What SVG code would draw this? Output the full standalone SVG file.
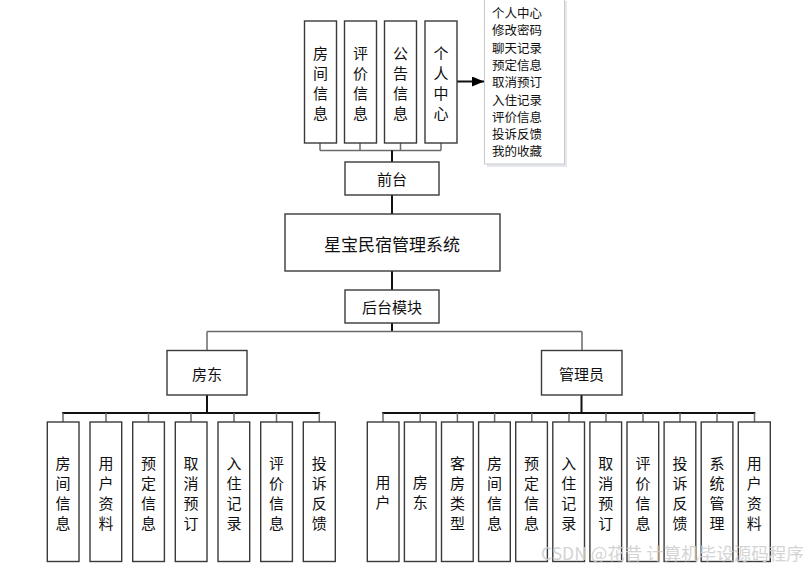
<svg xmlns="http://www.w3.org/2000/svg" width="806" height="570" viewBox="0 0 806 570">
<style>
.box{fill:#fff;stroke:#3a3a3a;stroke-width:1.4}
.t{font-family:"Noto Sans CJK SC","Liberation Sans",sans-serif;font-size:15px;fill:#111;text-anchor:middle;dominant-baseline:central}
.m{font-family:"Noto Sans CJK SC","Liberation Sans",sans-serif;font-size:12.5px;fill:#111}
.ln{fill:none;stroke:#6a6a6a;stroke-width:1.5}
.lk{fill:none;stroke:#111;stroke-width:2}
</style>
<defs>
<marker id="arr" viewBox="0 0 12 10" refX="12" refY="5" markerWidth="12" markerHeight="10" markerUnits="userSpaceOnUse" orient="auto">
<path d="M0,0 L12,5 L0,10 z" fill="#000"/>
</marker>
</defs>
<rect width="806" height="570" fill="#fff"/>
<g id="connectors">
<path class="ln" d="M320,143 V150.5 M360,143 V150.5 M400.5,143 V150.5 M441,143 V150.5 M320,150.5 H441"/>
<path class="lk" d="M392,150.5 V162"/>
<path class="lk" d="M392,195 V214"/>
<path class="lk" d="M392,271 V290"/>
<path class="lk" d="M392,323 V332"/>
<path class="ln" d="M207,331.5 H582 M207,331.5 V350 M582,331.5 V350"/>
<path class="lk" d="M207,395 V413 M581.5,395 V413"/>
<path class="lk" d="M62.2,413 H320.1"/>
<path class="ln" d="M63,413 V422 M106,413 V422 M148.5,413 V422 M191,413 V422 M234,413 V422 M276.5,413 V422 M319.3,413 V422"/>
<path class="lk" d="M382.2,413 H755.3"/>
<path class="ln" d="M383,413 V422 M420.2,413 V422 M457.4,413 V422 M494.6,413 V422 M531.8,413 V422 M569,413 V422 M606,413 V422 M643,413 V422 M680,413 V422 M717,413 V422 M754.5,413 V422"/>
<path class="lk" d="M457,81.5 H484" marker-end="url(#arr)"/>
</g>
<g id="top-fangjian"><rect class="box" x="304.5" y="21" width="32" height="122"/><text class="t"><tspan x="320.5" y="52">房</tspan><tspan x="320.5" y="72">间</tspan><tspan x="320.5" y="92">信</tspan><tspan x="320.5" y="112">息</tspan></text></g>
<g id="top-pingjia"><rect class="box" x="344.5" y="21" width="32" height="122"/><text class="t"><tspan x="360.5" y="52">评</tspan><tspan x="360.5" y="72">价</tspan><tspan x="360.5" y="92">信</tspan><tspan x="360.5" y="112">息</tspan></text></g>
<g id="top-gonggao"><rect class="box" x="384.5" y="21" width="32" height="122"/><text class="t"><tspan x="400.5" y="52">公</tspan><tspan x="400.5" y="72">告</tspan><tspan x="400.5" y="92">信</tspan><tspan x="400.5" y="112">息</tspan></text></g>
<g id="top-geren"><rect class="box" x="425" y="21" width="32" height="122"/><text class="t"><tspan x="441" y="52">个</tspan><tspan x="441" y="72">人</tspan><tspan x="441" y="92">中</tspan><tspan x="441" y="112">心</tspan></text></g>
<g id="popup">
<rect x="487" y="1" width="80" height="166" fill="#e4e8ee"/>
<rect x="484.5" y="-1" width="80" height="165" fill="#fff" stroke="#c8c8c8" stroke-width="1"/>
<text class="m"><tspan x="492" y="18">个人中心</tspan><tspan x="492" y="35.3">修改密码</tspan><tspan x="492" y="52.6">聊天记录</tspan><tspan x="492" y="69.9">预定信息</tspan><tspan x="492" y="87.2">取消预订</tspan><tspan x="492" y="104.5">入住记录</tspan><tspan x="492" y="121.8">评价信息</tspan><tspan x="492" y="139.1">投诉反馈</tspan><tspan x="492" y="156.4">我的收藏</tspan></text>
</g>
<g id="qiantai"><rect class="box" x="345" y="162" width="94" height="33"/><text class="t" x="392" y="178.5">前台</text></g>
<g id="system"><rect class="box" x="285" y="214" width="215" height="57"/><text class="t" x="392" y="243" style="font-size:17px">星宝民宿管理系统</text></g>
<g id="houtai"><rect class="box" x="345" y="290" width="94" height="33"/><text class="t" x="392" y="306.5">后台模块</text></g>
<g id="fangdong"><rect class="box" x="167" y="350.5" width="80" height="44.5"/><text class="t" x="207" y="373">房东</text></g>
<g id="guanliyuan"><rect class="box" x="541.5" y="350.5" width="80.5" height="44.5"/><text class="t" x="581.5" y="373">管理员</text></g>
<g id="l1"><rect class="box" x="47.3" y="422" width="31.7" height="139.5"/><text class="t"><tspan x="63" y="462">房</tspan><tspan x="63" y="482">间</tspan><tspan x="63" y="502">信</tspan><tspan x="63" y="522">息</tspan></text></g>
<g id="l2"><rect class="box" x="90" y="422" width="31.7" height="139.5"/><text class="t"><tspan x="106" y="462">用</tspan><tspan x="106" y="482">户</tspan><tspan x="106" y="502">资</tspan><tspan x="106" y="522">料</tspan></text></g>
<g id="l3"><rect class="box" x="132.7" y="422" width="31.7" height="139.5"/><text class="t"><tspan x="148.5" y="462">预</tspan><tspan x="148.5" y="482">定</tspan><tspan x="148.5" y="502">信</tspan><tspan x="148.5" y="522">息</tspan></text></g>
<g id="l4"><rect class="box" x="175.3" y="422" width="31.7" height="139.5"/><text class="t"><tspan x="191" y="462">取</tspan><tspan x="191" y="482">消</tspan><tspan x="191" y="502">预</tspan><tspan x="191" y="522">订</tspan></text></g>
<g id="l5"><rect class="box" x="218" y="422" width="31.7" height="139.5"/><text class="t"><tspan x="234" y="462">入</tspan><tspan x="234" y="482">住</tspan><tspan x="234" y="502">记</tspan><tspan x="234" y="522">录</tspan></text></g>
<g id="l6"><rect class="box" x="260.7" y="422" width="31.7" height="139.5"/><text class="t"><tspan x="276.5" y="462">评</tspan><tspan x="276.5" y="482">价</tspan><tspan x="276.5" y="502">信</tspan><tspan x="276.5" y="522">息</tspan></text></g>
<g id="l7"><rect class="box" x="303.3" y="422" width="32" height="139.5"/><text class="t"><tspan x="319.3" y="462">投</tspan><tspan x="319.3" y="482">诉</tspan><tspan x="319.3" y="502">反</tspan><tspan x="319.3" y="522">馈</tspan></text></g>
<g id="r1"><rect class="box" x="367.3" y="422" width="31.7" height="139.5"/><text class="t"><tspan x="383" y="481">用</tspan><tspan x="383" y="501">户</tspan></text></g>
<g id="r2"><rect class="box" x="404.4" y="422" width="31.7" height="139.5"/><text class="t"><tspan x="420.2" y="481">房</tspan><tspan x="420.2" y="501">东</tspan></text></g>
<g id="r3"><rect class="box" x="441.5" y="422" width="31.7" height="139.5"/><text class="t"><tspan x="457.4" y="462">客</tspan><tspan x="457.4" y="482">房</tspan><tspan x="457.4" y="502">类</tspan><tspan x="457.4" y="522">型</tspan></text></g>
<g id="r4"><rect class="box" x="478.6" y="422" width="31.7" height="139.5"/><text class="t"><tspan x="494.5" y="462">房</tspan><tspan x="494.5" y="482">间</tspan><tspan x="494.5" y="502">信</tspan><tspan x="494.5" y="522">息</tspan></text></g>
<g id="r5"><rect class="box" x="515.7" y="422" width="31.7" height="139.5"/><text class="t"><tspan x="531.6" y="462">预</tspan><tspan x="531.6" y="482">定</tspan><tspan x="531.6" y="502">信</tspan><tspan x="531.6" y="522">息</tspan></text></g>
<g id="r6"><rect class="box" x="552.8" y="422" width="31.7" height="139.5"/><text class="t"><tspan x="568.7" y="462">入</tspan><tspan x="568.7" y="482">住</tspan><tspan x="568.7" y="502">记</tspan><tspan x="568.7" y="522">录</tspan></text></g>
<g id="r7"><rect class="box" x="589.9" y="422" width="31.7" height="139.5"/><text class="t"><tspan x="605.8" y="462">取</tspan><tspan x="605.8" y="482">消</tspan><tspan x="605.8" y="502">预</tspan><tspan x="605.8" y="522">订</tspan></text></g>
<g id="r8"><rect class="box" x="627" y="422" width="31.7" height="139.5"/><text class="t"><tspan x="642.9" y="462">评</tspan><tspan x="642.9" y="482">价</tspan><tspan x="642.9" y="502">信</tspan><tspan x="642.9" y="522">息</tspan></text></g>
<g id="r9"><rect class="box" x="664.1" y="422" width="31.7" height="139.5"/><text class="t"><tspan x="680" y="462">投</tspan><tspan x="680" y="482">诉</tspan><tspan x="680" y="502">反</tspan><tspan x="680" y="522">馈</tspan></text></g>
<g id="r10"><rect class="box" x="701.2" y="422" width="31.7" height="139.5"/><text class="t"><tspan x="717.1" y="462">系</tspan><tspan x="717.1" y="482">统</tspan><tspan x="717.1" y="502">管</tspan><tspan x="717.1" y="522">理</tspan></text></g>
<g id="r11"><rect class="box" x="738.3" y="422" width="32" height="139.5"/><text class="t"><tspan x="754.3" y="462">用</tspan><tspan x="754.3" y="482">户</tspan><tspan x="754.3" y="502">资</tspan><tspan x="754.3" y="522">料</tspan></text></g>
<text x="541" y="560" style="font-family:'Noto Sans CJK SC','Liberation Sans',sans-serif;font-size:17.5px;fill:#d0d0d0;opacity:0.9">CSDN @花昔  计算机毕设源码程序</text>
</svg>
